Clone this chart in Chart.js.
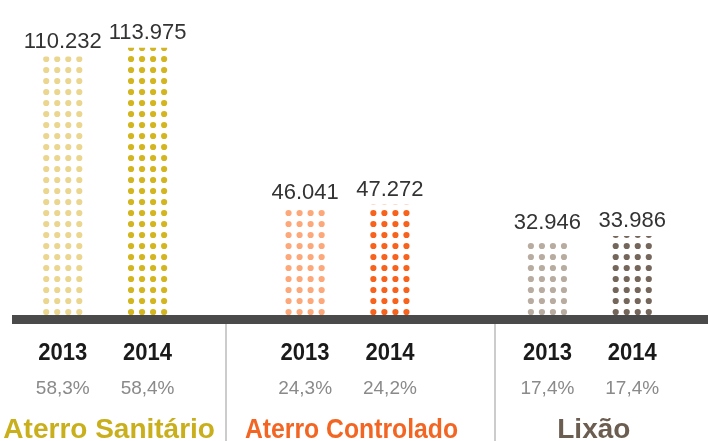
<!DOCTYPE html>
<html>
<head>
<meta charset="utf-8">
<script src="https://cdn.jsdelivr.net/npm/chart.js@4.4.1/dist/chart.umd.min.js"></script>
<style>
  html, body { margin: 0; padding: 0; background: #ffffff; overflow: hidden; }
  #wrap { position: absolute; left: -16px; top: 0; width: 727px; height: 441px; }
</style>
</head>
<body>
<div id="wrap"><canvas id="c"></canvas></div>
<script>
// ---- data ----
const categories = ['Aterro Sanitário', 'Aterro Controlado', 'Lixão'];
const years = ['2013', '2014'];
const values2013 = [110232, 46041, 32946];
const values2014 = [113975, 47272, 33986];
const share2013 = ['58,3%', '24,3%', '17,4%'];
const share2014 = ['58,4%', '24,2%', '17,4%'];

// ---- styles ----
const dotColors2013 = ['#ead68f', '#fca87a', '#b8aca0'];
const dotColors2014 = ['#d3b520', '#f7621c', '#74665a'];
const categoryColors = ['#c9af1c', '#f26522', '#6b5d50'];

function fmt(v) { return String(v).replace(/\B(?=(\d{3})+(?!\d))/g, '.'); }

const dotPlugin = {
  id: 'dots',
  afterDatasetsDraw(chart) {
    const ctx = chart.ctx;
    chart.data.datasets.forEach((ds, di) => {
      const meta = chart.getDatasetMeta(di);
      meta.data.forEach((bar, i) => {
        const p = bar.getProps(['x', 'y', 'base', 'width'], true);
        const left = p.x - p.width / 2;
        const top = Math.min(p.y, p.base);
        const bottom = p.base;
        const step = p.width / 4;
        ctx.save();
        ctx.beginPath();
        ctx.rect(left, top, p.width, bottom - top);
        ctx.clip();
        ctx.fillStyle = ds.dotColors[i];
        for (let r = 0; ; r++) {
          const cy = bottom - 4 - 11 * r;
          if (cy < top - 4) break;
          for (let c = 0; c < 4; c++) {
            const cx = left + step / 2 + step * c;
            ctx.beginPath();
            ctx.arc(cx, cy, 3.1, 0, Math.PI * 2);
            ctx.fill();
          }
        }
        ctx.restore();
        ctx.save();
        ctx.textAlign = 'center';
        ctx.textBaseline = 'alphabetic';
        // value label
        ctx.fillStyle = '#333333';
        ctx.font = '22px "Liberation Sans", Arial, sans-serif';
        ctx.fillText(fmt(ds.data[i]), p.x, top - 9, 80);
        // year label
        ctx.fillStyle = '#1a1a1a';
        ctx.font = 'bold 24px "Liberation Sans", Arial, sans-serif';
        ctx.fillText(ds.label, p.x, 360, 49);
        // share label
        ctx.fillStyle = '#8a8a8a';
        ctx.font = '19px "Liberation Sans", Arial, sans-serif';
        ctx.fillText(ds.shares[i], p.x, 394);
        ctx.restore();
      });
    });
  },
  afterDraw(chart) {
    const ctx = chart.ctx;
    const xs = chart.scales.x;
    const base = chart.scales.y.getPixelForValue(0);
    ctx.save();
    // baseline band
    ctx.fillStyle = '#4a4a4a';
    ctx.fillRect(28, base - 1, chart.width - 28, 9);
    // separators
    ctx.strokeStyle = '#cccccc';
    ctx.lineWidth = 2;
    [0.5, 1.61].forEach(v => {
      const x = Math.round(xs.getPixelForValue(v));
      ctx.beginPath();
      ctx.moveTo(x, base + 8);
      ctx.lineTo(x, chart.height);
      ctx.stroke();
    });
    // category names
    ctx.font = 'bold 28px "Liberation Sans", Arial, sans-serif';
    ctx.textAlign = 'center';
    ctx.textBaseline = 'alphabetic';
    chart.data.labels.forEach((lab, i) => {
      ctx.fillStyle = categoryColors[i];
      ctx.fillText(lab, xs.getPixelForValue(i) + 4, 438, 213);
    });
    ctx.restore();
  }
};

new Chart(document.getElementById('c'), {
  type: 'bar',
  data: {
    labels: categories,
    datasets: [
      { label: years[0], data: values2013, dotColors: dotColors2013, shares: share2013,
        backgroundColor: 'rgba(0,0,0,0)', borderWidth: 0 },
      { label: years[1], data: values2014, dotColors: dotColors2014, shares: share2014,
        backgroundColor: 'rgba(0,0,0,0)', borderWidth: 0 }
    ]
  },
  options: {
    responsive: true,
    maintainAspectRatio: false,
    animation: false,
    layout: { padding: { top: 10, bottom: 125, left: 0, right: 0 } },
    categoryPercentage: 0.70,
    barPercentage: 0.52,
    plugins: { legend: { display: false }, tooltip: { enabled: false } },
    scales: {
      x: { display: false, grid: { display: false } },
      y: { display: false, min: 0, max: 130000, grid: { display: false } }
    }
  },
  plugins: [dotPlugin]
});
</script>
</body>
</html>
